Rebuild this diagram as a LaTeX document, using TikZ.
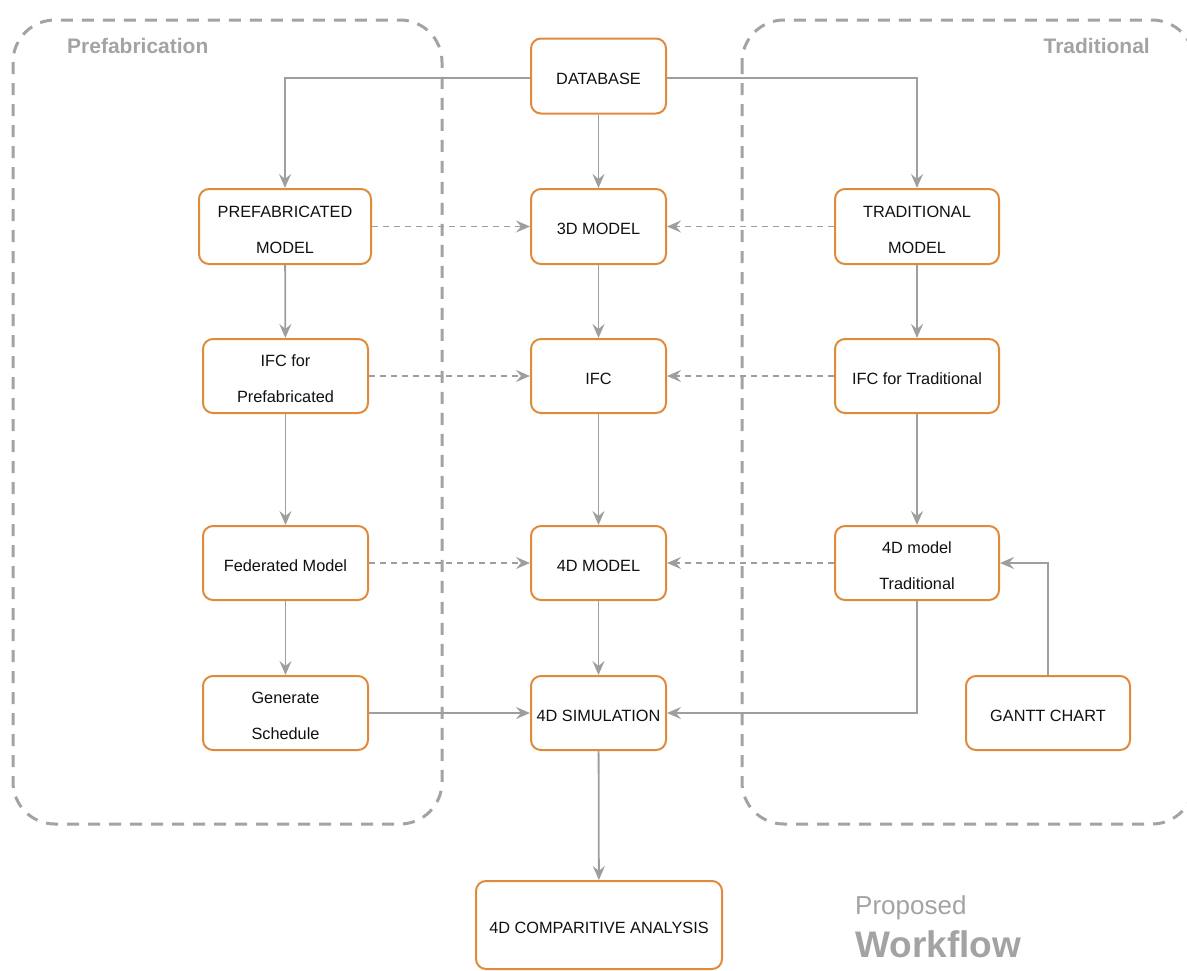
\documentclass[tikz,border=0pt]{standalone}
\usepackage{fontspec}
\setmainfont{Liberation Sans}
\usetikzlibrary{arrows.meta}
\definecolor{boxorange}{HTML}{E08A3C}
\definecolor{linegray}{HTML}{9E9E9E}
\definecolor{labelgray}{HTML}{A3A3A3}
\definecolor{inkdark}{HTML}{111111}

\begin{document}
\begin{tikzpicture}[x=1pt,y=-1pt,
  stepbox/.style={draw=boxorange, line width=2pt, rounded corners=10pt, fill=white,
    inner sep=0pt, align=center, font=\fontsize{16.3}{36}\selectfont, text=inkdark,
    text height=17pt},
  twoline/.style={text height=53.5pt, text depth=0pt},
  flow/.style={draw=linegray, line width=1.8pt, -{Stealth[length=14pt,width=12pt,inset=5pt]}},
  link/.style={flow, line width=1.5pt, dash pattern=on 6pt off 5pt},
  group/.style={draw=labelgray, line width=3pt, dash pattern=on 12pt off 9pt, rounded corners=42pt},
  grouptitle/.style={text=labelgray, font=\fontsize{21}{25}\selectfont\bfseries, inner sep=0pt},
]
\useasboundingbox (0,0) rectangle (1187,970);

% swim-lane frames
\draw[group] (13,20) rectangle (442,824);
\draw[group] (742,20) rectangle (1194,824);
\node[grouptitle, anchor=base west] (lanel) at (67,53) {Prefabrication};
\node[grouptitle, anchor=base east] (laner) at (1150,53) {Traditional};

% central column
\node[stepbox, minimum width=135pt, minimum height=75pt] (db)  at (598.5,76)  {DATABASE};
\node[stepbox, minimum width=135pt, minimum height=75pt] (m3)  at (598.5,226.5) {3D MODEL};
\node[stepbox, minimum width=135pt, minimum height=74pt] (ifc) at (598.5,376) {IFC};
\node[stepbox, minimum width=135pt, minimum height=74pt] (m4)  at (598.5,563) {4D MODEL};
\node[stepbox, minimum width=135pt, minimum height=74pt] (sim) at (598.5,713) {4D SIMULATION};
\node[stepbox, minimum width=246pt, minimum height=88pt] (comp) at (599,925) {4D COMPARITIVE ANALYSIS};

% prefabrication column
\node[stepbox, twoline, minimum width=172pt, minimum height=75pt] (pm)  at (285,226.5) {PREFABRICATED\\MODEL};
\node[stepbox, twoline, minimum width=165pt, minimum height=74pt] (ifp) at (285.5,376) {IFC for\\Prefabricated};
\node[stepbox, minimum width=165pt, minimum height=74pt] (fed) at (285.5,563) {Federated Model};
\node[stepbox, twoline, minimum width=165pt, minimum height=74pt] (gen) at (285.5,713) {Generate\\Schedule};

% traditional column
\node[stepbox, twoline, minimum width=164pt, minimum height=75pt] (tm)  at (917,226.5) {TRADITIONAL\\MODEL};
\node[stepbox, minimum width=164pt, minimum height=74pt] (ift) at (917,376) {IFC for Traditional};
\node[stepbox, twoline, minimum width=164pt, minimum height=74pt] (m4t) at (917,563) {4D model\\Traditional};
\node[stepbox, minimum width=164pt, minimum height=74pt] (gantt) at (1048,713) {GANTT CHART};

% solid flows
\draw[flow] ([yshift=-2pt]db.west) -| (pm.north);
\draw[flow] ([yshift=-2pt]db.east) -| (tm.north);
\draw[flow] (db) -- (m3);
\draw[flow] (m3) -- (ifc);
\draw[flow] (ifc) -- (m4);
\draw[flow] (m4) -- (sim);
\draw[flow] (sim) -- (comp);
\draw[flow] (pm) -- (ifp);
\draw[flow] (ifp) -- (fed);
\draw[flow] (fed) -- (gen);
\draw[flow] (tm) -- (ift);
\draw[flow] (ift) -- (m4t);
\draw[flow] (gen) -- (sim);
\draw[flow] (m4t.south) |- (sim.east);
\draw[flow] (gantt.north) |- (m4t.east);

% dashed links into the central column
\draw[link] (pm) -- (m3);
\draw[link] (tm) -- (m3);
\draw[link] (ifp) -- (ifc);
\draw[link] (ift) -- (ifc);
\draw[link] (fed) -- (m4);
\draw[link] (m4t) -- (m4);

% caption
\node[anchor=base west, inner sep=0pt, text=labelgray, font=\fontsize{26}{30}\selectfont] (cap1) at (855,914) {Proposed};
\node[anchor=base west, inner sep=0pt, text=labelgray, font=\fontsize{37}{40}\selectfont\bfseries] (cap2) at (855,957) {Workflow};
\end{tikzpicture}
\end{document}
